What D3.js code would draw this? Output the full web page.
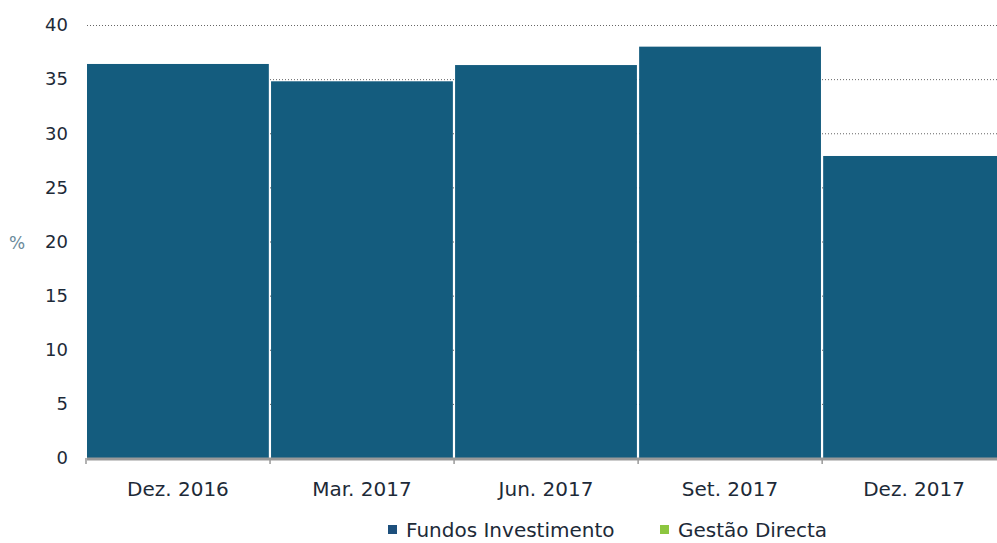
<!DOCTYPE html>
<html>
<head>
<meta charset="utf-8">
<script src="https://cdn.jsdelivr.net/npm/d3@7"></script>
<style>
  body { margin: 0; background: #fff; }
  svg { display: block; font-family: "DejaVu Sans", sans-serif; }
</style>
</head>
<body>
<div id="chart"></div>
<script>
var categories = ["Dez. 2016", "Mar. 2017", "Jun. 2017", "Set. 2017", "Dez. 2017"];
var fundosInvestimento = [36.4, 34.8, 36.3, 38.0, 27.9];
var gestaoDirecta = [0, 0, 0, 0, 0];
var yTicks = [0, 5, 10, 15, 20, 25, 30, 35, 40];
var seriesNames = ["Fundos Investimento", "Gestão Directa"];
var seriesColors = ["#145c7e", "#8cc63f"];

function init() {
  var w = 997;
  var h = 543;
  var left = 87, right = 1005, top = 25, bottom = 458;

  var svg = d3.select("#chart")
    .append("svg")
    .attr("width", w)
    .attr("height", h);

  var xScale = d3.scaleBand()
    .domain(categories)
    .range([left, right])
    .paddingInner(0.012)
    .paddingOuter(0);

  var yScale = d3.scaleLinear()
    .domain([0, 40])
    .range([bottom, top]);

  // dotted gridlines
  svg.append("g")
    .selectAll("line")
    .data(yTicks.filter(d => d > 0))
    .enter()
    .append("line")
    .attr("x1", left)
    .attr("x2", w)
    .attr("y1", d => yScale(d) + 0.5)
    .attr("y2", d => yScale(d) + 0.5)
    .attr("stroke", "#666")
    .attr("stroke-width", 1)
    .attr("stroke-dasharray", "1,2");

  // stacked bars
  var rows = categories.map((c, i) => ({ cat: c, f: fundosInvestimento[i], g: gestaoDirecta[i] }));
  var stack = d3.stack().keys(["f", "g"])(rows);

  svg.append("g")
    .selectAll("g")
    .data(stack)
    .enter()
    .append("g")
    .attr("fill", (d, i) => seriesColors[i])
    .selectAll("rect")
    .data(d => d)
    .enter()
    .append("rect")
    .attr("x", d => xScale(d.data.cat))
    .attr("y", d => yScale(d[1]))
    .attr("width", xScale.bandwidth())
    .attr("height", d => yScale(d[0]) - yScale(d[1]));

  // x axis
  var xAxis = d3.axisBottom(xScale).tickSize(0).tickPadding(24);
  var gx = svg.append("g")
    .attr("transform", `translate(0,${bottom})`)
    .call(xAxis);
  gx.select(".domain").remove();
  gx.append("line")
    .attr("x1", left).attr("x2", w)
    .attr("y1", 1).attr("y2", 1)
    .attr("stroke", "#999").attr("stroke-width", 3);
  gx.selectAll(".sep")
    .data(categories)
    .enter()
    .append("line")
    .attr("x1", d => xScale(d) - 1)
    .attr("x2", d => xScale(d) - 1)
    .attr("y1", 0).attr("y2", 6)
    .attr("stroke", "#999").attr("stroke-width", 1.5);
  gx.selectAll("text")
    .attr("font-size", 20)
    .attr("font-family", "DejaVu Sans, sans-serif")
    .attr("fill", "#1d2a38");

  // y axis
  var yAxis = d3.axisLeft(yScale).tickValues(yTicks).tickSize(0).tickPadding(0);
  var gy = svg.append("g")
    .attr("transform", "translate(68,0)")
    .call(yAxis);
  gy.select(".domain").remove();
  gy.selectAll("text")
    .attr("font-size", 18)
    .attr("font-family", "DejaVu Sans, sans-serif")
    .attr("fill", "#1d2a38");

  svg.append("text")
    .attr("x", 17)
    .attr("y", yScale(20) + 7)
    .attr("text-anchor", "middle")
    .attr("font-size", 17)
    .attr("fill", "#6a8a9a")
    .text("%");

  // legend
  var legend = svg.append("g").attr("transform", "translate(388,537)");
  var offsets = [0, 272];
  seriesNames.forEach(function(name, i) {
    var g = legend.append("g").attr("transform", `translate(${offsets[i]},0)`);
    g.append("rect")
      .attr("x", 0).attr("y", -12)
      .attr("width", 9).attr("height", 9)
      .attr("fill", i === 0 ? "#1d4f7c" : seriesColors[1]);
    g.append("text")
      .attr("x", 18).attr("y", 0)
      .attr("font-size", 20)
      .attr("fill", "#1d2a38")
      .text(name);
  });
}

window.onload = init;
</script>
</body>
</html>
